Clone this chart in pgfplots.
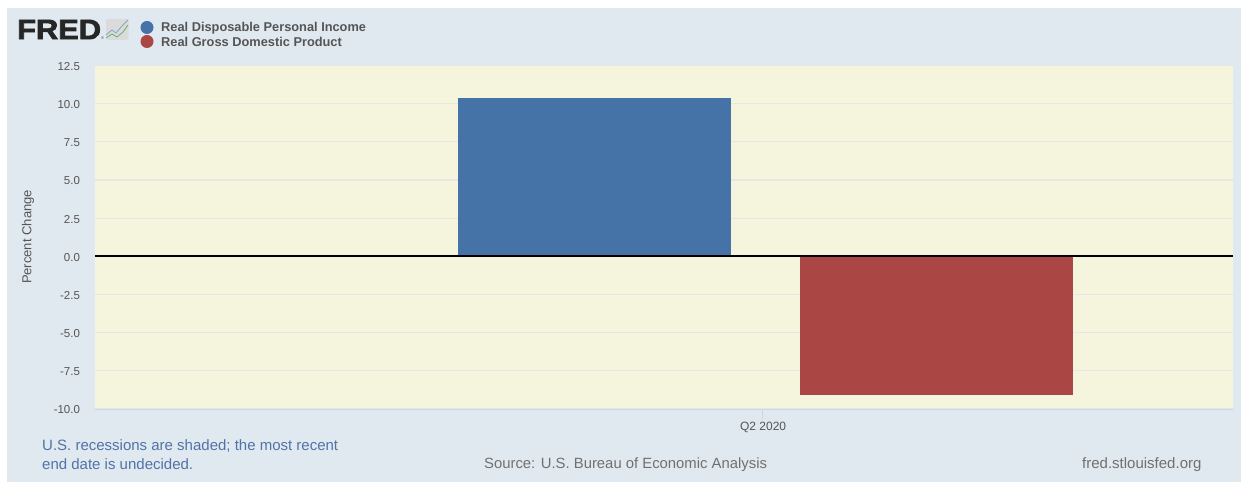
\documentclass[border=0pt]{standalone}
\usepackage{pgfplots}
\pgfplotsset{compat=1.18}
\usepackage{fontspec}
\setmainfont{Liberation Sans}
\definecolor{panelbg}{HTML}{E1E9F0}
\definecolor{plotbg}{HTML}{F5F4DC}
\definecolor{incomeblue}{HTML}{4572A7}
\definecolor{gdpred}{HTML}{AA4643}
\definecolor{gridc}{HTML}{E6E6E4}
\definecolor{axisc}{HTML}{CCD6EB}
\definecolor{ticktext}{HTML}{555555}
\definecolor{legendtext}{HTML}{555555}
\definecolor{notetext}{HTML}{5073A8}
\definecolor{foottext}{HTML}{707070}
\begin{document}
\begin{tikzpicture}[x=1pt,y=1pt]
  % page background and header panel
  \fill[white] (0,0) rectangle (1248,482);
  \fill[panelbg] (7,0) rectangle (1241,474);
  \begin{axis}[
    at={(95pt,73pt)}, anchor=south west,
    scale only axis, width=1138pt, height=343.5pt,
    xmin=-1.961, xmax=1.367, ymin=-10, ymax=12.5,
    axis background/.style={fill=plotbg},
    ytick={-10,-7.5,-5,-2.5,0,2.5,5,7.5,10,12.5},
    yticklabel style={/pgf/number format/fixed,/pgf/number format/fixed zerofill,
      /pgf/number format/precision=1,/pgf/number format/assume math mode=true,
      font=\fontsize{11.5pt}{13pt}\selectfont,text=ticktext,anchor=east,xshift=-11.5pt,yshift=-1pt},
    ymajorgrids, grid style={gridc,line width=1.2pt},
    xtick={-0.01}, xticklabels={Q2 2020},
    xticklabel style={font=\fontsize{12pt}{13pt}\selectfont,text=ticktext,xshift=1pt},
    x tick style={axisc,line width=1pt},
    y tick style={draw=none},
    major tick length=10pt,
    axis x line*=bottom, axis y line*=left,
    x axis line style={axisc,line width=1pt,-},
    y axis line style={draw=none,-},
    clip=false,
    ybar, bar width=273pt, bar shift=0pt,
  ]
    \addplot[fill=incomeblue,draw=none] coordinates {(-0.5,10.35)};
    \addplot[fill=gdpred,draw=none] coordinates {(0.5,-9.1)};
    % zero reference line
    \addplot[sharp plot,black,line width=2pt,forget plot] coordinates {(-1.961,0) (1.367,0)};
  \end{axis}
  % axis title
  \node[rotate=90,text=ticktext,font=\fontsize{13pt}{14pt}\selectfont] at (28,245) {Percent Change};
  % logo
  \node[anchor=west,inner sep=0pt,xscale=1.1,text=black!85,font=\fontsize{28pt}{28pt}\selectfont\bfseries\addfontfeatures{FakeBold=2.5}] at (17,452.5) {FRED};
  \node[anchor=center,inner sep=0pt,text=black!70,font=\fontsize{4pt}{4pt}\selectfont] at (102.5,443.5) {®};
  \fill[rounded corners=1.5pt,black!14] (106,442) rectangle (128.5,463);
  \draw[incomeblue!65,line width=0.8pt] (106,447) -- (112,452) -- (116,449) -- (122,456) -- (128,462);
  \draw[green!50!black!60,line width=0.8pt] (106,444) -- (112,448) -- (117,445) -- (123,450) -- (128,457);
  % legend
  \fill[incomeblue] (147,454.5) circle (6.5);
  \fill[gdpred] (147,440.5) circle (6.5);
  \node[anchor=west,inner sep=0pt,text=legendtext,font=\fontsize{12.8pt}{12.8pt}\selectfont\bfseries] at (161,454) {Real Disposable Personal Income};
  \node[anchor=west,inner sep=0pt,text=legendtext,font=\fontsize{12.8pt}{12.8pt}\selectfont\bfseries] at (161,440) {Real Gross Domestic Product};
  % footer
  \node[anchor=west,inner sep=0pt,text=notetext,font=\fontsize{15pt}{15pt}\selectfont] at (42,36) {U.S. recessions are shaded; the most recent};
  \node[anchor=west,inner sep=0pt,text=notetext,font=\fontsize{15pt}{15pt}\selectfont] at (42,18) {end date is undecided.};
  \node[anchor=west,inner sep=0pt,text=foottext,font=\fontsize{14.85pt}{15pt}\selectfont] at (484,17) {Source: U.S. Bureau of Economic Analysis};
  \node[anchor=west,inner sep=0pt,text=foottext,font=\fontsize{15pt}{15pt}\selectfont] at (1082,17) {fred.stlouisfed.org};
\end{tikzpicture}
\end{document}
